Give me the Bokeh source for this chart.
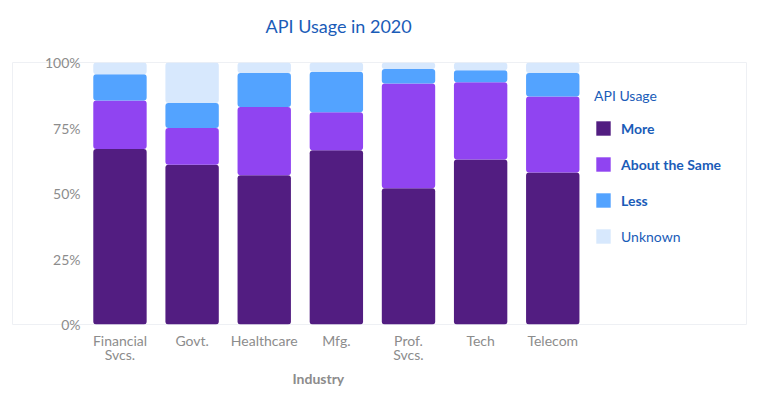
from bokeh.plotting import figure
from bokeh.models import (ColumnDataSource, Legend, LegendItem, Title, FixedTicker,
                          NumeralTickFormatter, Range1d)
from bokeh.embed import file_html
from bokeh.resources import INLINE

industries = ["Financial\nSvcs.", "Govt.", "Healthcare", "Mfg.", "Prof.\nSvcs.", "Tech", "Telecom"]
more = [0.67, 0.61, 0.57, 0.665, 0.52, 0.63, 0.58]
same = [0.185, 0.14, 0.26, 0.145, 0.40, 0.295, 0.29]
less = [0.10, 0.095, 0.13, 0.155, 0.055, 0.045, 0.09]
unknown = [0.045, 0.155, 0.04, 0.035, 0.025, 0.03, 0.04]
series_names = ["More", "About the Same", "Less", "Unknown"]
colors = ["#521D81", "#9044F1", "#53A3FF", "#D7E8FD"]

x = list(range(len(industries)))
src = ColumnDataSource(dict(x=x, more=more, same=same, less=less, unknown=unknown))

p = figure(width=755, height=388, output_backend="svg", toolbar_location=None,
           x_range=Range1d(-1.49, 8.686), y_range=Range1d(0, 1),
           min_border_left=12, min_border_right=9, min_border_top=62, min_border_bottom=64)

rs = p.vbar_stack(["more", "same", "less", "unknown"], x="x", width=0.74, source=src,
                  color=colors, line_color=None, border_radius=3)

p.xgrid.visible = False
p.ygrid.visible = False
p.outline_line_color = "#EEF0F4"
p.outline_line_width = 1
p.background_fill_color = "white"
p.border_fill_color = "white"

font = "Lato"
grey = "#8C8C8C"
blue = "#1A5CB8"

p.xaxis.ticker = FixedTicker(ticks=x)
p.xaxis.major_label_overrides = {i: lab for i, lab in enumerate(industries)}
p.xaxis.axis_line_color = None
p.xaxis.major_tick_line_color = None
p.xaxis.minor_tick_line_color = None
p.xaxis.major_label_text_font = font
p.xaxis.major_label_text_font_size = "14px"
p.xaxis.major_label_text_color = grey
p.xaxis.major_label_text_line_height = 0.84
p.xaxis.major_label_standoff = 1

p.yaxis.ticker = FixedTicker(ticks=[0, 0.25, 0.5, 0.75, 1.0])
p.yaxis.formatter = NumeralTickFormatter(format="0%")
p.yaxis.axis_line_color = None
p.yaxis.major_tick_line_color = None
p.yaxis.minor_tick_line_color = None
p.yaxis.major_label_text_font = font
p.yaxis.major_label_text_font_size = "14px"
p.yaxis.major_label_text_color = grey
p.yaxis.major_label_standoff = -74

spacer = Title(text=" ", text_font_size="1px", standoff=23)
p.add_layout(spacer, "above")
title = Title(text="API Usage in 2020", text_font=font, text_font_size="18px",
              text_font_style="normal", text_color=blue, align="left", offset=253,
              standoff=0)
p.add_layout(title, "above")
xlabel = Title(text="Industry", text_font=font, text_font_size="14px",
               text_font_style="bold", text_color=grey, align="left", offset=280,
               standoff=4)
p.add_layout(xlabel, "below")

def style_legend(lg):
    lg.border_line_color = None
    lg.background_fill_alpha = 0
    lg.padding = 0
    lg.margin = 0
    lg.glyph_width = 18
    lg.glyph_height = 18
    lg.label_height = 18
    lg.spacing = 18
    lg.label_standoff = 9
    lg.label_text_font = font
    lg.label_text_font_size = "14px"
    lg.label_text_color = blue

leg1 = Legend(items=[LegendItem(label=series_names[i], renderers=[rs[i]]) for i in range(3)],
              location=(582, 115), title="API Usage")
style_legend(leg1)
leg1.label_text_font_style = "bold"
leg1.title_text_font = font
leg1.title_text_font_size = "14px"
leg1.title_text_font_style = "normal"
leg1.title_text_color = blue
leg1.title_standoff = 15

leg2 = Legend(items=[LegendItem(label=series_names[3], renderers=[rs[3]])], location=(582, 79))
style_legend(leg2)
leg2.label_text_font_style = "normal"

p.add_layout(leg1)
p.add_layout(leg2)

open("out.html", "w").write(file_html(p, INLINE))
